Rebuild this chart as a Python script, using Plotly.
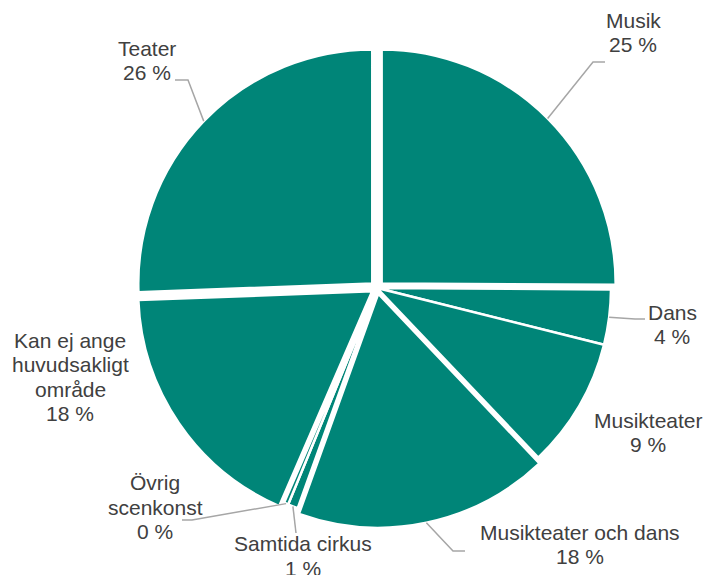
import math
import plotly.graph_objects as go

# ---- data ----
categories = ["Musik", "Dans", "Musikteater", "Musikteater och dans",
              "Samtida cirkus", "Övrig\nscenkonst",
              "Kan ej ange\nhuvudsakligt\nområde", "Teater"]
values = [25.1, 3.8, 9.0, 17.6, 0.7, 0.3, 17.9, 25.6]

# ---- style / layout ----
W, H = 704, 575
TEAL = "#008578"
TEXT = "#404040"
LEADER = "#A6A6A6"
FONT = "Liberation Sans, Arial, sans-serif"
FS = 21
LINE_GAP = 24.5

pulls = [0.028, 0, 0, 0.025, 0, 0, 0.025, 0.028]
CX, CY, R = 377, 288, 234          # pixel centre and radius of pie
maxpull = max(pulls)
half = R * (1 + maxpull)

# label block centres (px) and leader line elbow/end points (px)
label_pos = [(633, 32.5), (672, 324.5), (648, 432.5), (580, 544.5),
             (302.5, 556), (155, 507), (70, 377), (147, 60.5)]
leaders = [[(593, 62), (605, 62)], [(635, 319), (645, 319)], None,
           [(453, 551), (465, 551)], [(296, 533)], [(192, 520), (182, 520)],
           None, [(188, 80), (175, 80)]]


def px(x):
    return x / W


def py(y):
    return 1 - y / H


fig = go.Figure(go.Pie(
    labels=[c.replace("\n", " ") for c in categories],
    values=values,
    sort=False,
    direction="clockwise",
    rotation=0,
    pull=pulls,
    marker=dict(colors=[TEAL] * len(values), line=dict(color="white", width=2.5)),
    textinfo="none",
    hoverinfo="skip",
    domain=dict(x=[px(CX - half), px(CX + half)],
                y=[(H - CY - half) / H, (H - CY + half) / H]),
))

total = sum(values)
annotations = []
shapes = []
cum = 0.0
for i, (cat, v) in enumerate(zip(categories, values)):
    mid = (cum + v / 2) / total * 2 * math.pi
    cum += v
    pct = round(v / total * 100)
    lines = cat.split("\n") + [f"{pct} %"]
    bx, by = label_pos[i]
    n = len(lines)
    for k, t in enumerate(lines):
        ly = by + (k - (n - 1) / 2) * LINE_GAP
        annotations.append(dict(
            x=px(bx), y=py(ly), xref="paper", yref="paper",
            text=t, showarrow=False, xanchor="center", yanchor="middle",
            font=dict(family=FONT, size=FS, color=TEXT)))
    if leaders[i]:
        dist = R * (1 + pulls[i])
        sx = CX + dist * math.sin(mid)
        sy = CY - dist * math.cos(mid)
        pts = [(sx, sy)] + leaders[i]
        path = "M " + " L ".join(f"{px(a):.5f},{py(b):.5f}" for a, b in pts)
        shapes.append(dict(type="path", path=path, xref="paper", yref="paper",
                           line=dict(color=LEADER, width=1.5)))

fig.update_layout(
    width=W, height=H,
    margin=dict(l=0, r=0, t=0, b=0),
    paper_bgcolor="white", plot_bgcolor="white",
    showlegend=False,
    annotations=annotations,
    shapes=shapes,
)

fig.write_html("out.html",
               config={"displayModeBar": False, "staticPlot": True},
               post_script="document.body.style.margin='0';"
                           "document.body.style.overflow='hidden';")
